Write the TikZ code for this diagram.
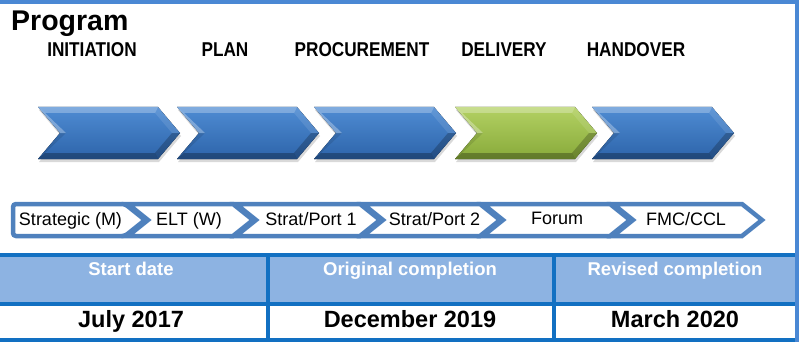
\documentclass[tikz,border=0pt]{standalone}
\usepackage{fontspec}
\setmainfont{Liberation Sans}
\newfontfamily\narrowfont[FakeStretch=0.86]{Liberation Sans}
\usetikzlibrary{shadows}

\definecolor{frameblue}{HTML}{4A88D4}
\definecolor{tableblue}{HTML}{1270C2}
\definecolor{headfill}{HTML}{8DB3E2}
\definecolor{chevline}{HTML}{4F81BD}
\definecolor{bluetop}{HTML}{4F8CD3}
\definecolor{bluebot}{HTML}{2D64AA}
\definecolor{greentop}{HTML}{B3D163}
\definecolor{greenbot}{HTML}{88AA3A}

\tikzset{
  % bevelled phase arrow, origin at its top-left corner
  pics/phase/.style n args={2}{code={
    \fill[drop shadow={opacity=0.3,shadow xshift=1pt,shadow yshift=-3pt},
          top color=#1, bottom color=#2]
      (0,0)--(120,0)--(142,26)--(120,52)--(0,52)--(22,26)--cycle;
    \fill[white,opacity=0.28] (0,0)--(120,0)--(117,6)--(7,6)--cycle;
    \fill[white,opacity=0.30] (0,0)--(22,26)--(28,26)--(7,6)--cycle;
    \fill[black,opacity=0.10] (22,26)--(0,52)--(7,46)--(28,26)--cycle;
    \fill[black,opacity=0.28] (0,52)--(120,52)--(117,46)--(7,46)--cycle;
    \fill[white,opacity=0.10] (120,0)--(142,26)--(134,26)--(117,6)--cycle;
    \fill[black,opacity=0.22] (142,26)--(120,52)--(117,46)--(134,26)--cycle;
  }},
  stagebox/.style={draw=chevline, line width=4.5pt, fill=white, line join=miter},
  phaselabel/.style={anchor=base, inner sep=0pt,
    font=\narrowfont\bfseries\fontsize{20pt}{24pt}\selectfont},
  stagetext/.style={anchor=base, inner sep=0pt,
    font=\fontsize{18pt}{22pt}\selectfont},
  headtext/.style={anchor=base, inner sep=0pt, text=white,
    font=\bfseries\fontsize{18.5pt}{22pt}\selectfont},
  datetext/.style={anchor=base, inner sep=0pt,
    font=\bfseries\fontsize{23.5pt}{28pt}\selectfont},
}

\begin{document}
\begin{tikzpicture}[x=1pt,y=-1pt]
\useasboundingbox (0,0) rectangle (802,342);

% frame
\fill[frameblue] (0,0) rectangle (798,4);

% title and phase names
\node[anchor=base west, inner sep=0pt,
      font=\bfseries\fontsize{28.5pt}{34pt}\selectfont] (title) at (11,31) {Program};
\node[phaselabel] (initiation)  at (92,57)  {INITIATION};
\node[phaselabel] (plan)        at (225,57) {PLAN};
\node[phaselabel] (procurement) at (362,57) {PROCUREMENT};
\node[phaselabel] (delivery)    at (504,57) {DELIVERY};
\node[phaselabel] (handover)    at (636,57) {HANDOVER};

% phase arrows
\pic at (38,107)  {phase={bluetop}{bluebot}};
\pic at (177,107) {phase={bluetop}{bluebot}};
\pic at (314,107) {phase={bluetop}{bluebot}};
\pic at (455,107) {phase={greentop}{greenbot}};
\pic at (592,107) {phase={bluetop}{bluebot}};

% governance steps
\draw[stagebox, rounded corners=3pt]
  (13,204)--(125,204)--(145,220)--(125,236)--(13,236)--cycle;
\draw[stagebox] (128,204)--(233,204)--(253,220)--(233,236)--(128,236)--(148,220)--cycle;
\draw[stagebox] (236,204)--(360,204)--(380,220)--(360,236)--(236,236)--(256,220)--cycle;
\draw[stagebox] (363,204)--(480,204)--(500,220)--(480,236)--(363,236)--(383,220)--cycle;
\draw[stagebox] (483,204)--(610,204)--(630,220)--(610,236)--(483,236)--(503,220)--cycle;
\draw[stagebox] (613,204)--(742,204)--(762,220)--(742,236)--(613,236)--(633,220)--cycle;

\node[stagetext] (s1) at (70.5,225) {Strategic (M)};
\node[stagetext] (s2) at (189,225)  {ELT (W)};
\node[stagetext] (s3) at (311,225)  {Strat/Port 1};
\node[stagetext] (s4) at (434.5,225) {Strat/Port 2};
\node[stagetext] (s5) at (557,224)  {Forum};
\node[stagetext] (s6) at (686,225)  {FMC/CCL};

% dates table
\fill[headfill] (0,255) rectangle (796,303);
\draw[tableblue, line width=4pt] (0,255) -- (796,255);
\draw[tableblue, line width=4pt] (0,303.5) -- (796,303.5);
\draw[tableblue, line width=4pt] (0,340) -- (796,340);
\draw[tableblue, line width=4pt] (268,255) -- (268,342);
\draw[tableblue, line width=4pt] (554,255) -- (554,342);
\fill[frameblue] (795,0) rectangle (799,342);

\node[headtext] (h1) at (131,275) {Start date};
\node[headtext] (h2) at (410,275) {Original completion};
\node[headtext] (h3) at (675,275) {Revised completion};
\node[datetext] (d1) at (131,327) {July 2017};
\node[datetext] (d2) at (410,327) {December 2019};
\node[datetext] (d3) at (675,327) {March 2020};
\end{tikzpicture}
\end{document}
